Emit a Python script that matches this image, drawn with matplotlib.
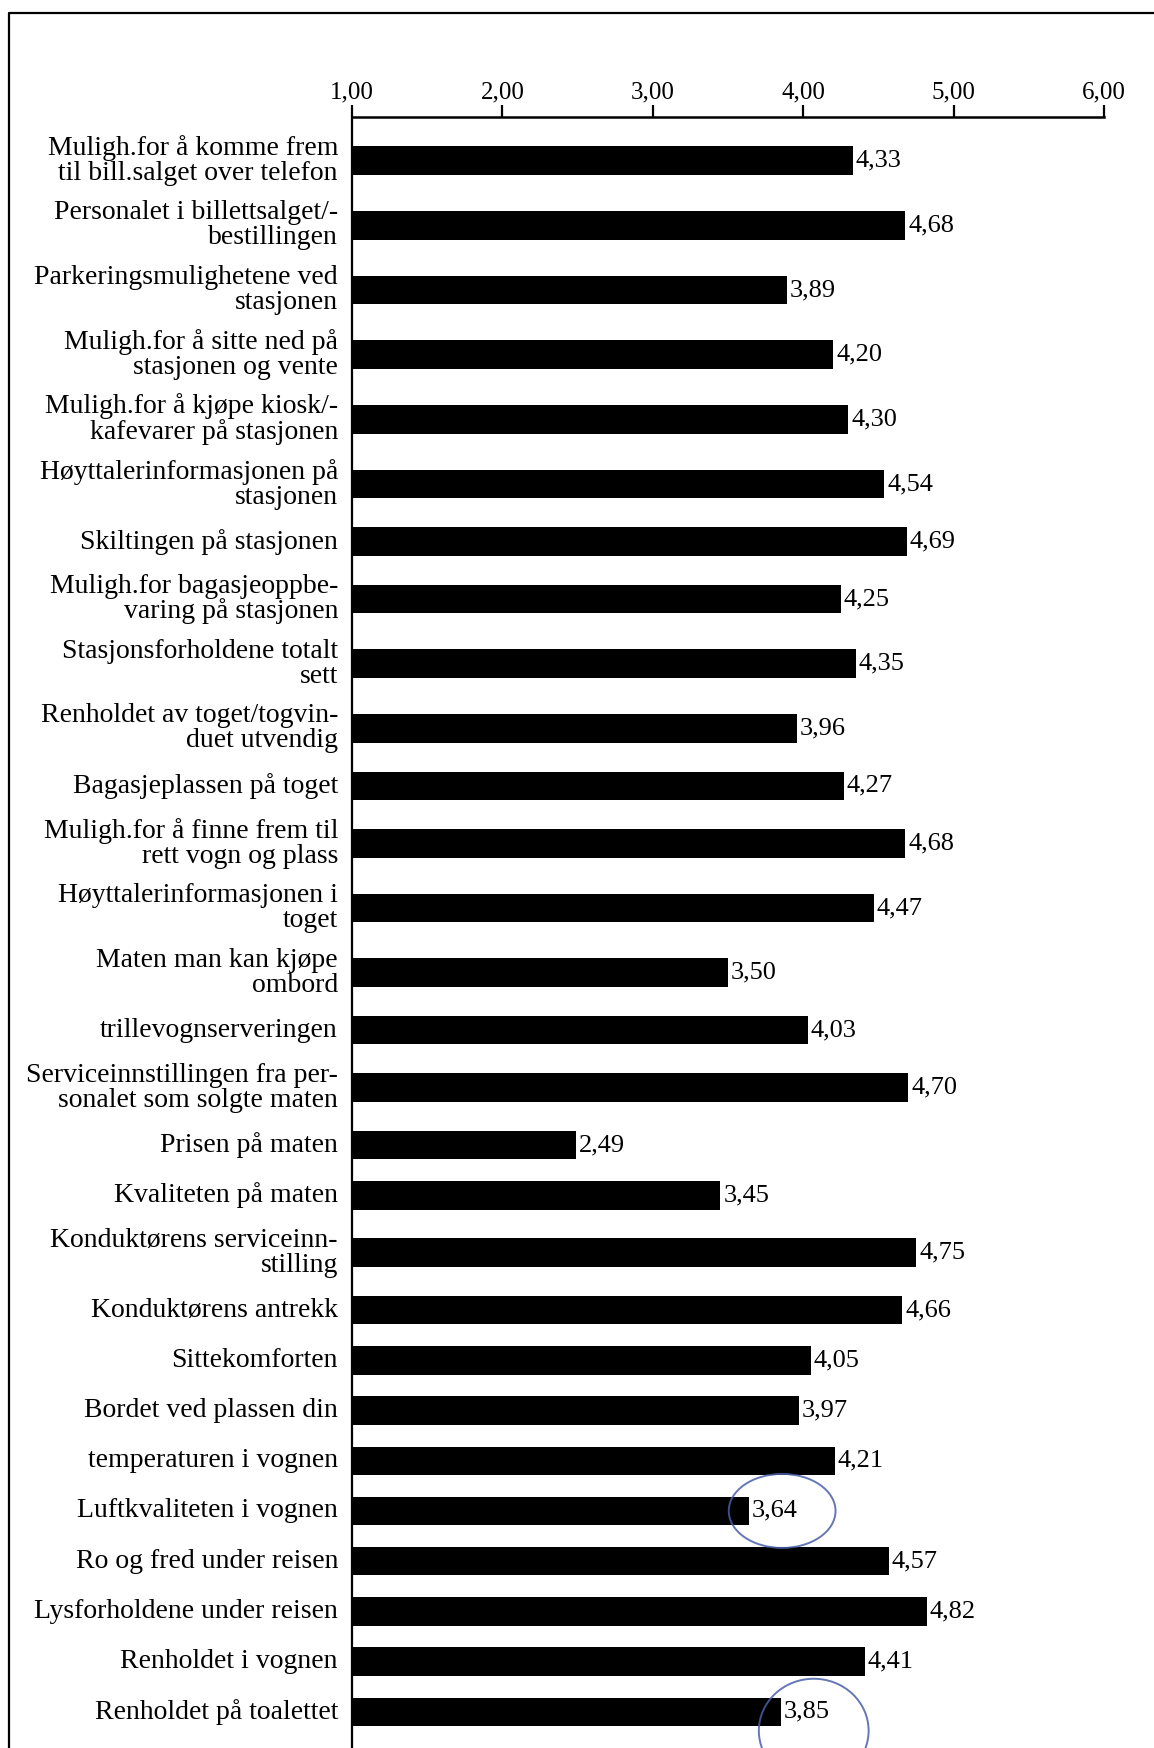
import matplotlib.pyplot as plt
from matplotlib.patches import Ellipse
from matplotlib.lines import Line2D

plt.rcParams['font.family'] = ['Liberation Serif', 'DejaVu Serif']

labels = [
    "Muligh.for å komme frem\ntil bill.salget over telefon",
    "Personalet i billettsalget/-\nbestillingen",
    "Parkeringsmulighetene ved\nstasjonen",
    "Muligh.for å sitte ned på\nstasjonen og vente",
    "Muligh.for å kjøpe kiosk/-\nkafevarer på stasjonen",
    "Høyttalerinformasjonen på\nstasjonen",
    "Skiltingen på stasjonen",
    "Muligh.for bagasjeoppbe-\nvaring på stasjonen",
    "Stasjonsforholdene totalt\nsett",
    "Renholdet av toget/togvin-\nduet utvendig",
    "Bagasjeplassen på toget",
    "Muligh.for å finne frem til\nrett vogn og plass",
    "Høyttalerinformasjonen i\ntoget",
    "Maten man kan kjøpe\nombord",
    "trillevognserveringen",
    "Serviceinnstillingen fra per-\nsonalet som solgte maten",
    "Prisen på maten",
    "Kvaliteten på maten",
    "Konduktørens serviceinn-\nstilling",
    "Konduktørens antrekk",
    "Sittekomforten",
    "Bordet ved plassen din",
    "temperaturen i vognen",
    "Luftkvaliteten i vognen",
    "Ro og fred under reisen",
    "Lysforholdene under reisen",
    "Renholdet i vognen",
    "Renholdet på toalettet",
]
scores = [4.33, 4.68, 3.89, 4.20, 4.30, 4.54, 4.69, 4.25, 4.35, 3.96,
          4.27, 4.68, 4.47, 3.50, 4.03, 4.70, 2.49, 3.45, 4.75, 4.66,
          4.05, 3.97, 4.21, 3.64, 4.57, 4.82, 4.41, 3.85]
ticks = [1, 2, 3, 4, 5, 6]

# pen marks: label -> (x offset from bar end, width, height px, y offset px)
pen_circles = {
    "Luftkvaliteten i vognen": (0.22, 0.71, 74, 0),
    "Renholdet på toalettet": (0.22, 0.73, 104, 19),
}

W, H = 1154, 1748
fig = plt.figure(figsize=(W / 100, H / 100), dpi=100)

# axes in pixel units (y downwards from top of page)
ax_left, ax_right, ax_top = 352, 1104, 117
ax = fig.add_axes([ax_left / W, 0, (ax_right - ax_left) / W, 1 - ax_top / H])
ax.set_xlim(1, 6)
ax.set_ylim(H, ax_top)
px = 5 / (ax_right - ax_left)  # data units per pixel along x

# row heights: two-line labels take more room
row_single, row_double = 50.2, 64.7
heights = [row_double if "\n" in l else row_single for l in labels]
ys = []
y = 160.6
for i, h in enumerate(heights):
    if i > 0:
        y += (heights[i - 1] + h) / 2
    ys.append(y)

ax.barh(ys, [s - 1 for s in scores], left=1, height=28.5, color='black')

for yy, s, lab in zip(ys, scores, labels):
    ax.text(s + 3 * px, yy, f"{s:.2f}".replace('.', ','), va='center', ha='left',
            fontsize=19)
    ax.text(1 - 14 * px, yy, lab, va='center', ha='right', fontsize=20,
            linespacing=1.0, multialignment='right')
    if lab in pen_circles:
        dx, w, h, dy = pen_circles[lab]
        ax.add_patch(Ellipse((s + dx, yy + dy), w, h, fill=False,
                             edgecolor='#4a5fa8', lw=1.4, alpha=0.85,
                             clip_on=False))

ax.xaxis.tick_top()
ax.set_xticks(ticks)
ax.set_xticklabels([f"{t:.2f}".replace('.', ',') for t in ticks], fontsize=18)
ax.tick_params(axis='x', direction='out', length=9, width=1.6, pad=1)
ax.set_yticks([])
for side in ['right', 'bottom']:
    ax.spines[side].set_visible(False)
ax.spines['top'].set_linewidth(1.8)
ax.spines['left'].set_linewidth(1.6)
ax.patch.set_visible(False)

# page frame
fig.add_artist(Line2D([9 / W, 9 / W, 1], [0, 1 - 13 / H, 1 - 13 / H],
                      color='black', lw=1.6, transform=fig.transFigure))

fig.savefig('out.png', dpi=100, facecolor='white')
